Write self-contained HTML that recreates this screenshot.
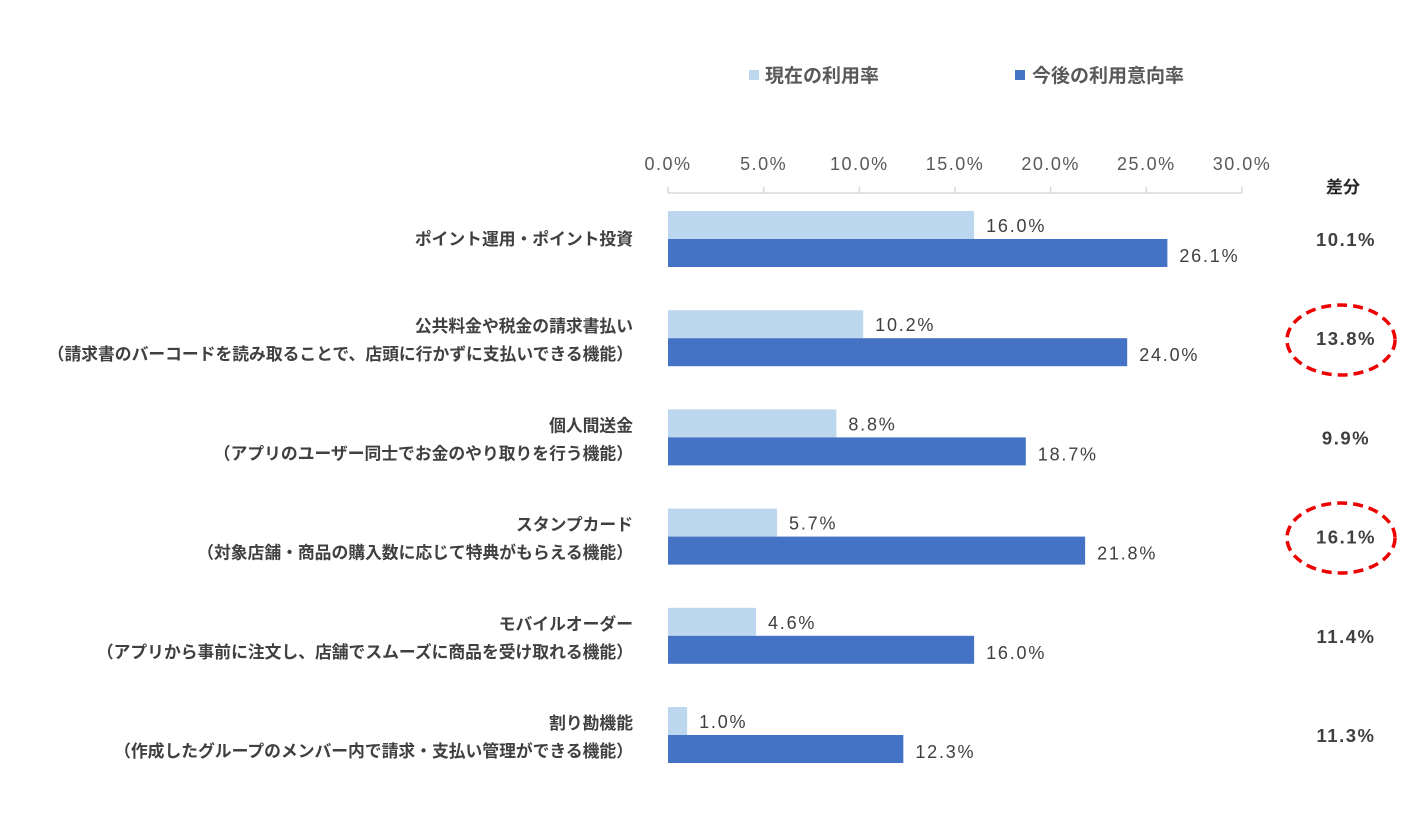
<!DOCTYPE html>
<html><head><meta charset="utf-8"><style>
body{margin:0;background:#fff;width:1405px;height:821px;overflow:hidden;font-family:"Liberation Sans","Noto Sans CJK JP",sans-serif;}
svg text{font-family:"Liberation Sans","Noto Sans CJK JP",sans-serif;}
</style></head><body>
<svg id="chart" width="1405" height="821" xmlns="http://www.w3.org/2000/svg">
<g>
<rect x="749" y="70" width="10" height="10" fill="#BDD7EE"/>
<text x="765" y="82" font-size="19" font-weight="bold" fill="#595959">現在の利用率</text>
<rect x="1015" y="70" width="10" height="10" fill="#4472C4"/>
<text x="1032" y="82" font-size="19" font-weight="bold" fill="#595959">今後の利用意向率</text>
</g>
<text x="1343" y="193" font-size="17" font-weight="bold" fill="#262626" text-anchor="middle">差分</text>
<g id="axis"></g>
<g id="bars"></g>
<g>
<ellipse cx="1341" cy="340" rx="54" ry="35" fill="none" stroke="#E00" stroke-width="3.5" stroke-dasharray="10,6"/>
<ellipse cx="1341" cy="538" rx="54" ry="35" fill="none" stroke="#E00" stroke-width="3.5" stroke-dasharray="10,6"/>
</g>
</svg>
<script>
const categories=[["ポイント運用・ポイント投資"],["公共料金や税金の請求書払い","（請求書のバーコードを読み取ることで、店頭に行かずに支払いできる機能）"],["個人間送金","（アプリのユーザー同士でお金のやり取りを行う機能）"],["スタンプカード","（対象店舗・商品の購入数に応じて特典がもらえる機能）"],["モバイルオーダー","（アプリから事前に注文し、店舗でスムーズに商品を受け取れる機能）"],["割り勘機能","（作成したグループのメンバー内で請求・支払い管理ができる機能）"]];
const currentRate=[16.0,10.2,8.8,5.7,4.6,1.0];
const futureRate=[26.1,24.0,18.7,21.8,16.0,12.3];
const tickValues=[0,5,10,15,20,25,30];
const NS="http://www.w3.org/2000/svg";
const x0=668,x1=1242,maxV=30;
const xs=v=>x0+(x1-x0)*v/maxV;
const rowY=i=>211+i*99.2;
const barH=28;
function mk(tag,attrs,parent,txt){const e=document.createElementNS(NS,tag);for(const k in attrs)e.setAttribute(k,attrs[k]);if(txt!==undefined)e.textContent=txt;parent.appendChild(e);return e;}
const ax=document.getElementById('axis');
const l=mk('line',{x1:x0,x2:x1,y1:193,y2:193,stroke:'#D9D9D9','stroke-width':1.5},ax);


tickValues.forEach(v=>{
 const t=mk('line',{x1:xs(v),x2:xs(v),y1:187,y2:193,stroke:'#D9D9D9','stroke-width':1.5},ax);
 
 
 const tx=mk('text',{x:xs(v),y:170,'font-size':18,'letter-spacing':1.5,fill:'#595959','text-anchor':'middle'},ax,v.toFixed(1)+'%');
 
 
});
const g=document.getElementById('bars');
categories.forEach((c,i)=>{
 const y=rowY(i);
 const b1=mk('rect',{x:x0,y:y,width:xs(currentRate[i])-x0,height:barH,fill:'#BDD7EE'},g);
 
 
 const b2=mk('rect',{x:x0,y:y+barH,width:xs(futureRate[i])-x0,height:barH,fill:'#4472C4'},g);
 
 
 const v1=mk('text',{x:xs(currentRate[i])+12,y:y+21,'font-size':18,'letter-spacing':1.8,fill:'#404040'},g,currentRate[i].toFixed(1)+'%');
 
 
 const v2=mk('text',{x:xs(futureRate[i])+12,y:y+barH+23,'font-size':18,'letter-spacing':1.8,fill:'#404040'},g,futureRate[i].toFixed(1)+'%');
 
 
 const ys=c.length===1?[y+34]:[y+22,y+50];
 c.forEach((s,j)=>{
  const t=mk('text',{x:633,y:ys[j],'font-size':16.8,'font-weight':'bold',fill:'#404040','text-anchor':'end'},g,s);
  
  
 });
 const d=(futureRate[i]-currentRate[i]).toFixed(1)+'%';
 const dt=mk('text',{x:1346,y:y+35,'font-size':18.5,'letter-spacing':1.5,'font-weight':'bold',fill:'#404040','text-anchor':'middle'},g,d);
 
 
});
</script>
</body></html>
